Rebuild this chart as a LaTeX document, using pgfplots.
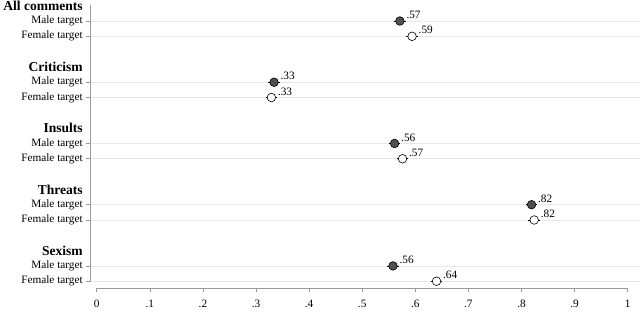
\documentclass[border=0pt]{standalone}
\usepackage{pgfplots}
\pgfplotsset{compat=1.18}
\usepackage{pgfplotstable}
\usepackage{fontspec}
\setmainfont{Liberation Serif}
\definecolor{axisgray}{HTML}{9A9A9A}
\definecolor{gridgray}{HTML}{E8E8E8}
\definecolor{darkfill}{HTML}{505050}
\pgfplotstableread{
x y e lab
0.571 -1 0.011 .57
0.334 -5 0.011 .33
0.561 -9 0.011 .56
0.819 -13 0.011 .82
0.558 -17 0.011 .56
}\male
\pgfplotstableread{
x y e lab
0.594 -2 0.011 .59
0.329 -6 0.011 .33
0.576 -10 0.011 .57
0.824 -14 0.011 .82
0.640 -18 0.011 .64
}\female
\begin{document}
\begin{tikzpicture}
\begin{axis}[
  scale only axis,
  width=549bp, height=288bp,
  xmin=-0.0113, xmax=1.0226,
  ymin=-18.44, ymax=0.372,
  clip=false,
  axis lines*=left,
  axis line style={draw=none},
  tick align=outside,
  major tick length=4.5bp,
  tick style={axisgray, line width=0.6pt},
  xtick={0,0.1,...,1},
  xticklabels={0,.1,.2,.3,.4,.5,.6,.7,.8,.9,1},
  xticklabel style={yshift=-4.5bp},
  ytick={-1,-2,-5,-6,-9,-10,-13,-14,-17,-18},
  yticklabels={Male target,Female target,Male target,Female target,Male target,Female target,Male target,Female target,Male target,Female target},
  yticklabel style={inner ysep=0pt},
  extra y ticks={0,-4,-8,-12,-16},
  extra y tick labels={All comments,Criticism,Insults,Threats,Sexism},
  extra y tick style={major tick length=0pt, ymajorgrids=false,
    yticklabel style={font=\fontsize{13.6}{15}\selectfont\bfseries, xshift=-4.5bp, inner ysep=0pt}},
  ymajorgrids,
  major grid style={gridgray, line width=0.7pt},
  tick label style={font=\fontsize{11.3}{13}\selectfont, text=black},
  /pgf/number format/assume math mode=true,
]
\draw[axisgray, line width=0.6pt] (axis cs:0,-18.44) -- (axis cs:1,-18.44);
\draw[axisgray, line width=0.6pt] (axis cs:-0.0113,0.02) -- (axis cs:-0.0113,-18);
% confidence intervals
\addplot[draw=none, mark=none, forget plot,
  error bars/.cd, x dir=both, x explicit, error mark=none,
  error bar style={black, line width=0.6pt}]
  table[x=x, y=y, x error=e] {\male};
\addplot[draw=none, mark=none, forget plot,
  error bars/.cd, x dir=both, x explicit, error mark=none,
  error bar style={black, line width=0.6pt}]
  table[x=x, y=y, x error=e] {\female};
% markers
\addplot[only marks, mark=*, mark size=4.3bp,
  mark options={fill=darkfill, draw=black, line width=0.6pt},
  point meta=explicit symbolic,
  nodes near coords,
  nodes near coords style={anchor=west, xshift=3bp, yshift=6bp,
    font=\fontsize{11.3}{13}\selectfont, text=black}]
  table[x=x, y=y, meta=lab] {\male};
\addplot[only marks, mark=*, mark size=4.3bp,
  mark options={fill=white, draw=black, line width=0.6pt},
  point meta=explicit symbolic,
  nodes near coords,
  nodes near coords style={anchor=west, xshift=3bp, yshift=6bp,
    font=\fontsize{11.3}{13}\selectfont, text=black}]
  table[x=x, y=y, meta=lab] {\female};
\end{axis}
\end{tikzpicture}
\end{document}
